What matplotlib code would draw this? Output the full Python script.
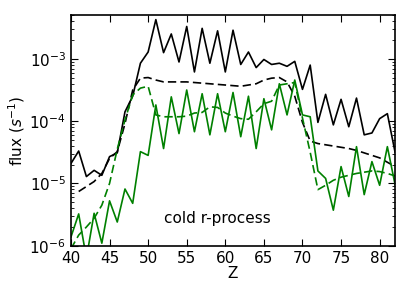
import numpy as np
import matplotlib
matplotlib.use("Agg")
import matplotlib.pyplot as plt

# Data (log10 of flux)
Z_solid = list(range(40, 83))
black_solid_log = [-4.68, -4.48, -4.89, -4.79, -4.87, -4.57, -4.51, -3.85, -3.60, -3.07,
                   -2.89, -2.37, -2.90, -2.60, -3.05, -2.48, -3.21, -2.51, -3.07, -2.55,
                   -3.21, -2.54, -3.09, -2.89, -3.14, -3.01, -3.09, -3.07, -3.12, -3.04,
                   -3.49, -3.10, -4.02, -3.57, -4.06, -3.65, -4.09, -3.63, -4.22, -4.19,
                   -3.96, -3.88, -4.50]
green_solid_log = [-5.86, -5.49, -6.20, -5.48, -5.96, -5.28, -5.62, -5.09, -5.32, -4.49,
                   -4.55, -3.74, -4.44, -3.61, -4.20, -3.50, -4.17, -3.56, -4.22, -3.56,
                   -4.17, -3.54, -4.25, -3.60, -4.44, -3.64, -4.14, -3.40, -3.90, -3.34,
                   -3.90, -3.93, -4.80, -4.92, -5.43, -4.73, -5.21, -4.41, -5.18, -4.65,
                   -5.03, -4.41, -5.02]
Z_black_dash = list(range(41, 83))
black_dash_log = [-5.13, -5.05, -4.97, -4.84, -4.60, -4.49, -4.04, -3.50, -3.31, -3.30,
                  -3.34, -3.37, -3.37, -3.37, -3.37, -3.38, -3.39, -3.40, -3.41, -3.42,
                  -3.43, -3.44, -3.42, -3.40, -3.34, -3.31, -3.30, -3.37, -3.60, -4.02,
                  -4.32, -4.36, -4.38, -4.40, -4.42, -4.44, -4.47, -4.51, -4.55, -4.59,
                  -4.66, -4.73]
Z_green_dash = list(range(40, 83))
green_dash_log = [-6.05, -5.83, -5.70, -5.56, -5.35, -5.00, -4.45, -3.98, -3.58, -3.47,
                  -3.44, -3.90, -3.93, -3.93, -3.93, -3.92, -3.87, -3.86, -3.77, -3.78,
                  -3.87, -3.92, -3.96, -3.97, -3.85, -3.72, -3.68, -3.42, -3.40, -3.38,
                  -3.95, -4.50, -5.10, -5.03, -4.95, -4.90, -4.87, -4.84, -4.82, -4.80,
                  -4.81, -4.84, -4.88]

label_text = "cold r-process"

fig = plt.figure(figsize=(4.15, 2.96), dpi=100)
ax = fig.add_axes([0.171, 0.170, 0.781, 0.780])

lw = 1.2
ax.plot(Z_solid, 10**np.array(black_solid_log), color='black', lw=lw)
ax.plot(Z_black_dash, 10**np.array(black_dash_log), color='black', lw=lw, dashes=(5, 2.5))
ax.plot(Z_solid, 10**np.array(green_solid_log), color='green', lw=lw)
ax.plot(Z_green_dash, 10**np.array(green_dash_log), color='green', lw=lw, dashes=(5, 2.5))

ax.set_yscale('log')
ax.set_xlim(40, 82)
ax.set_ylim(1e-6, 5.1e-3)
ax.set_xticks(range(40, 85, 5))
ax.tick_params(which='both', direction='in', top=True, right=True, labelsize=11)
ax.tick_params(which='major', length=5, width=0.8)
ax.tick_params(which='minor', length=2.5, width=0.6)
ax.tick_params(axis='x', which='minor', bottom=False, top=False)
for s in ax.spines.values():
    s.set_linewidth(1.2)

ax.set_xlabel('Z', fontsize=11, labelpad=0)
ax.set_ylabel(r'flux ($s^{-1}$)', fontsize=11, labelpad=2)
ax.text(52.0, 2.7e-6, label_text, fontsize=11, va='center', ha='left')

fig.savefig('out.png', dpi=100)
